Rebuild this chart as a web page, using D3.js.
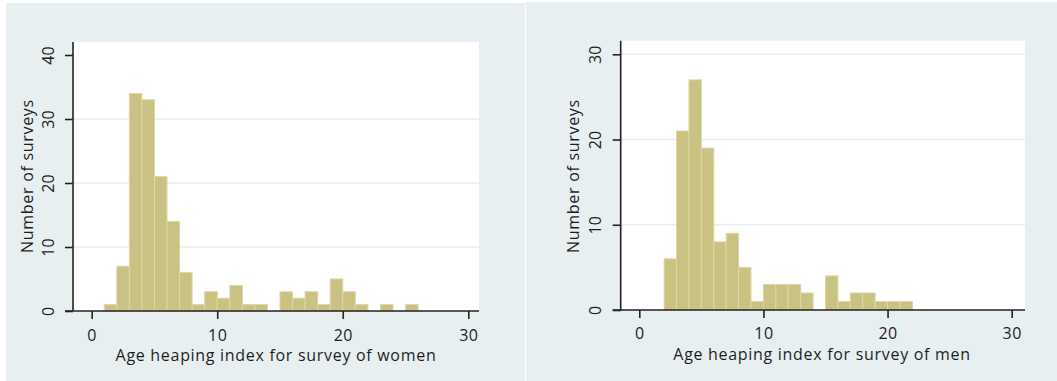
<!DOCTYPE html>
<html><head><meta charset="utf-8">
<script src="https://cdn.jsdelivr.net/npm/d3@7"></script>
<style>body{margin:0;background:#fff}svg{display:block}text{font-family:"Open Sans",sans-serif;fill:#1e1e1e}</style>
</head><body>
<script>
const womenBins = [1,2,3,4,5,6,7,8,9,10,11,12,13,14,15,16,17,18,19,20,21,22,23,24,25];
const womenCounts = [1,7,34,33,21,14,6,1,3,2,4,1,1,0,3,2,3,1,5,3,1,0,1,0,1];
const menBins = [2,3,4,5,6,7,8,9,10,11,12,13,14,15,16,17,18,19,20,21];
const menCounts = [6,21,27,19,8,9,5,1,3,3,3,2,0,4,1,2,2,1,1,1];
const xTicks = [0,10,20,30];
const womenYTicks = [0,10,20,30,40];
const menYTicks = [0,10,20,30];
const womenGrid = [10,20,30];
const menGrid = [10,20,30];
const womenXLabel = "Age heaping index for survey of women";
const menXLabel = "Age heaping index for survey of men";
const yLabel = "Number of surveys";

const W = 1057, H = 381;
const svg = d3.select("body").append("svg").attr("width", W).attr("height", H);

function panel(cfg) {
  const g = svg.append("g");
  g.append("rect").attr("x", cfg.bg[0]).attr("y", cfg.bg[1]).attr("width", cfg.bg[2]).attr("height", cfg.bg[3]).attr("fill", "#e8eff1");
  const x = d3.scaleLinear().domain([0, 30]).range(cfg.xr);
  const y = d3.scaleLinear().domain([0, cfg.yTop]).range(cfg.yr);
  g.append("rect").attr("x", cfg.axX).attr("y", cfg.top).attr("width", cfg.right - cfg.axX).attr("height", cfg.yr[0] - cfg.top).attr("fill", "#fff");
  g.selectAll(".grid").data(cfg.grid).join("line")
    .attr("x1", cfg.axX).attr("x2", cfg.right)
    .attr("y1", d => y(d)).attr("y2", d => y(d))
    .attr("stroke", "#e4eef0").attr("stroke-width", 1.5);
  g.selectAll(".bar").data(cfg.bins.map((b, i) => ({b, c: cfg.counts[i]})).filter(d => d.c > 0)).join("rect")
    .attr("x", d => x(d.b)).attr("width", d => x(d.b + 1) - x(d.b))
    .attr("y", d => y(d.c)).attr("height", d => y(0) - y(d.c))
    .attr("fill", "#c9c283").attr("stroke", "#dcd7a4").attr("stroke-width", 1);
  const yAxis = d3.axisLeft(y).tickValues(cfg.yTicks).tickSize(8).tickFormat(d3.format("d"));
  const ya = g.append("g").attr("transform", `translate(${cfg.axX},0)`).call(yAxis);
  ya.select(".domain").attr("d", `M0,${cfg.top}V${y(0)}`).attr("stroke", "#222").attr("stroke-width", 1.6);
  ya.selectAll(".tick line").attr("stroke", "#222").attr("stroke-width", 1.6);
  ya.selectAll(".tick text").attr("x", null).attr("dy", "0.35em").attr("text-anchor", "middle")
    .attr("transform", `translate(${cfg.yLabX - cfg.axX},0) rotate(-90)`)
    .style("font-size", "16px").style("font-family", "'Open Sans',sans-serif").attr("fill", "#1e1e1e");
  const xAxis = d3.axisBottom(x).tickValues(xTicks).tickSize(8).tickFormat(d3.format("d"));
  const xa = g.append("g").attr("transform", `translate(0,${y(0)})`).call(xAxis);
  xa.select(".domain").attr("d", `M${cfg.axX - 8},0H${cfg.right}`).attr("stroke", "#222").attr("stroke-width", 1.6);
  xa.selectAll(".tick line").attr("stroke", "#222").attr("stroke-width", 1.6);
  xa.selectAll(".tick text").attr("y", cfg.xTickY - y(0)).attr("dy", "0.35em")
    .style("font-size", "16px").style("font-family", "'Open Sans',sans-serif").style("letter-spacing", "0.5px").attr("fill", "#1e1e1e");
  g.append("text").attr("x", cfg.xTitle[0]).attr("y", cfg.xTitle[1]).attr("dy", "0.35em").attr("text-anchor", "middle")
    .style("font-size", "16px").style("letter-spacing", "0.7px").text(cfg.xLabel);
  g.append("text").attr("transform", `translate(${cfg.yTitle[0]},${cfg.yTitle[1]}) rotate(-90)`).attr("dy", "0.35em").attr("text-anchor", "middle")
    .style("font-size", "16px").style("letter-spacing", "0.7px").text(yLabel);
}

panel({bg:[6,3,519,378], xr:[91.7,468.3], yr:[311,55], yTop:40, axX:73, top:42, right:479,
  grid: womenGrid, bins: womenBins, counts: womenCounts, yTicks: womenYTicks,
  yLabX:48, xTickY:335, xTitle:[276,355], yTitle:[27,176], xLabel: womenXLabel});
panel({bg:[526,2,531,379], xr:[639.3,1011.7], yr:[310,54.3], yTop:30, axX:620.7, top:40.7, right:1025,
  grid: menGrid, bins: menBins, counts: menCounts, yTicks: menYTicks,
  yLabX:595, xTickY:333, xTitle:[822,354], yTitle:[573,176], xLabel: menXLabel});
</script>
</body></html>
